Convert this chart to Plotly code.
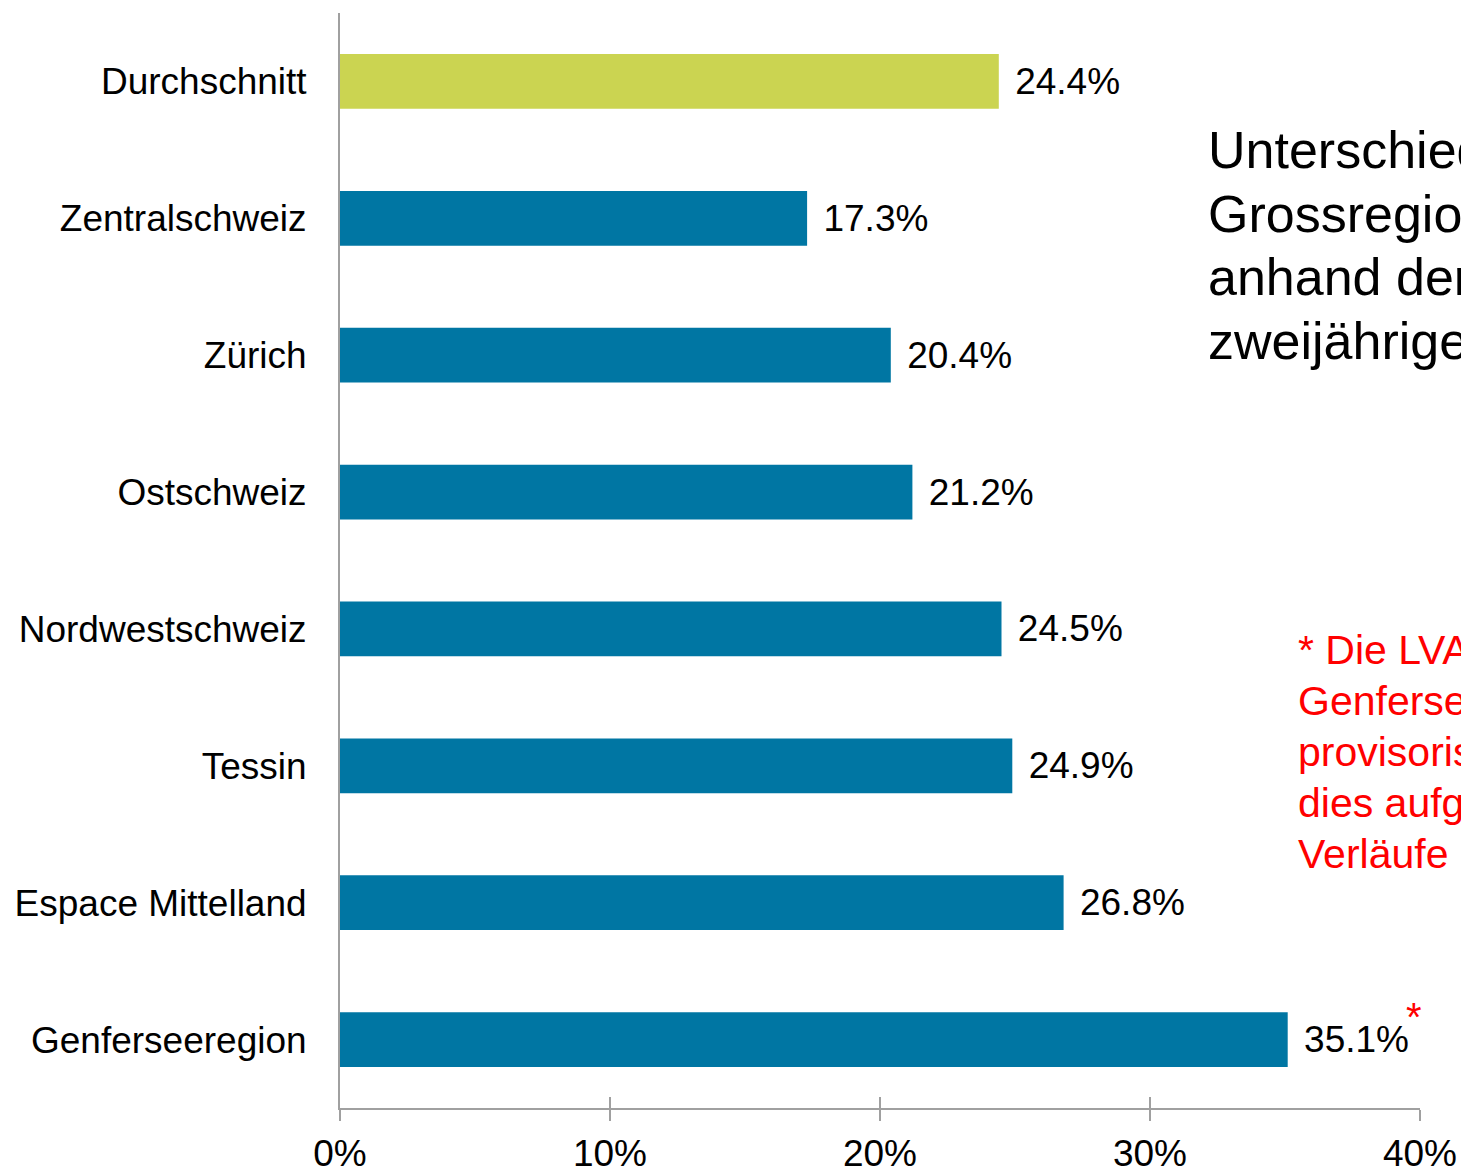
import plotly.graph_objects as go

regions = ["Durchschnitt", "Zentralschweiz", "Zürich", "Ostschweiz",
           "Nordwestschweiz", "Tessin", "Espace Mittelland", "Genferseeregion"]
shares = [24.4, 17.3, 20.4, 21.2, 24.5, 24.9, 26.8, 35.1]
x_ticks = [0, 10, 20, 30, 40]
x_tick_labels = ["0%", "10%", "20%", "30%", "40%"]

title_lines = ["Unterschiede der", "Grossregionen", "anhand der", "zweijährigen"]
note_lines = ["* Die LVA-Werte der", "Genferseeregion sind", "provisorisch, da",
              "dies aufgrund der", "Verläufe noch"]

BLUE = "#0076A3"
GREEN = "#CBD451"
AXIS = "#A0A0A0"
FONT = "Liberation Sans, Arial, sans-serif"

bar_colors = [GREEN] + [BLUE] * (len(regions) - 1)

fig = go.Figure(
    go.Bar(
        x=shares,
        y=regions,
        orientation="h",
        marker=dict(color=bar_colors, line_width=0),
        text=[f" \u200a{v:.1f}%" for v in shares],
        textposition="outside",
        textfont=dict(size=37, color="black", family=FONT),
        cliponaxis=False,
        hoverinfo="skip",
    )
)

# second x axis only for the inward half of the crossing tick marks
fig.add_trace(go.Scatter(x=[0], y=[regions[0]], xaxis="x2", mode="markers",
                         marker=dict(opacity=0), hoverinfo="skip", showlegend=False))

fig.update_layout(
    width=1461,
    height=1170,
    font=dict(family=FONT, size=37, color="black"),
    paper_bgcolor="white",
    plot_bgcolor="white",
    showlegend=False,
    bargap=0.6,
    margin=dict(l=340, r=41, t=13, b=62, autoexpand=False),
    xaxis=dict(
        range=[0, 40],
        tickvals=x_ticks,
        ticktext=x_tick_labels,
        ticks="outside",
        ticklen=11,
        tickcolor=AXIS,
        tickwidth=2,
        showline=True,
        linecolor=AXIS,
        linewidth=2,
        showgrid=False,
        zeroline=False,
        tickfont=dict(size=37),
        ticklabelstandoff=1,
        automargin=False,
        fixedrange=True,
    ),
    xaxis2=dict(
        range=[0, 40],
        overlaying="x",
        side="bottom",
        tickvals=x_ticks,
        ticks="inside",
        ticklen=11,
        tickcolor=AXIS,
        tickwidth=2,
        showticklabels=False,
        showgrid=False,
        zeroline=False,
        showline=False,
        automargin=False,
    ),
    yaxis=dict(
        categoryorder="array",
        categoryarray=regions,
        range=[len(regions) - 0.5, -0.5],
        showline=True,
        linecolor=AXIS,
        linewidth=2,
        ticks="",
        showgrid=False,
        zeroline=False,
        tickfont=dict(size=37),
        ticklabelstandoff=24,
        automargin=False,
        fixedrange=True,
    ),
)

# red asterisk beside the Genferseeregion value
fig.add_annotation(x=shares[-1], y=regions[-1], text="*", showarrow=False,
                   xanchor="left", xshift=116, yshift=23,
                   font=dict(size=40, color="red", family=FONT))

for i, line in enumerate(title_lines):
    fig.add_annotation(xref="paper", yref="paper", x=(1206 - 340) / 1080,
                       y=1 - (150 - 13 + 63.5 * i) / 1095, text=line,
                       showarrow=False, xanchor="left", yanchor="middle",
                       font=dict(size=52, color="black", family=FONT))

for i, line in enumerate(note_lines):
    fig.add_annotation(xref="paper", yref="paper", x=(1296 - 340) / 1080,
                       y=1 - (650 - 13 + 51 * i) / 1095, text=line,
                       showarrow=False, xanchor="left", yanchor="middle",
                       font=dict(size=41, color="red", family=FONT))

# drop the default 8px body margin so the figure fills the window exactly
fig.write_html("out.html", config={"displayModeBar": False},
               post_script="document.body.style.margin = '0';")
